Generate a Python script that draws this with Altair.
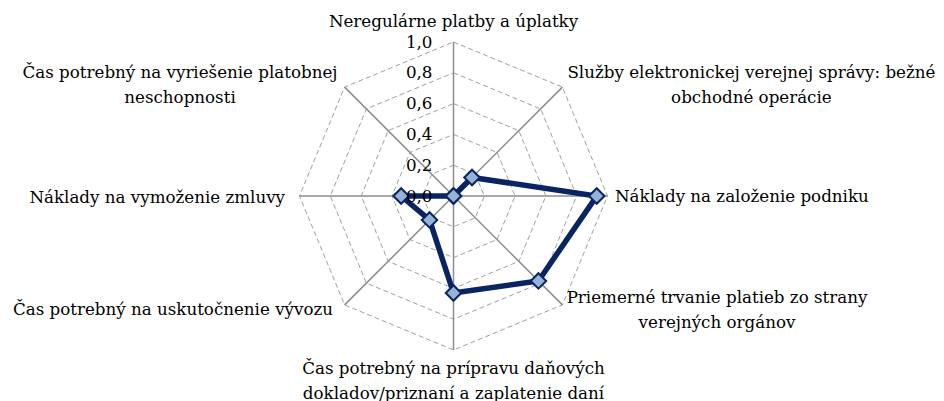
import numpy as np
import pandas as pd
import altair as alt

# ---- data ----
categories = [
    "Neregulárne platby a úplatky",
    "Služby elektronickej verejnej správy: bežné\nobchodné operácie",
    "Náklady na založenie podniku",
    "Priemerné trvanie platieb zo strany\nverejných orgánov",
    "Čas potrebný na prípravu daňových\ndokladov/priznaní a zaplatenie daní",
    "Čas potrebný na uskutočnenie vývozu",
    "Náklady na vymoženie zmluvy",
    "Čas potrebný na vyriešenie platobnej\nneschopnosti",
]
values = [0.0, 0.17, 0.93, 0.78, 0.63, 0.22, 0.34, 0.0]
grid_levels = [0.2, 0.4, 0.6, 0.8, 1.0]
tick_values = [0.0, 0.2, 0.4, 0.6, 0.8, 1.0]
tick_labels = ["0,0", "0,2", "0,4", "0,6", "0,8", "1,0"]

# ---- styles ----
FONT = "DejaVu Serif"
FS = 16.7
LH = 25
NAVY = "#0A2463"
FILL = "#95B3D7"
SPOKE = "#8C8C8C"
GRID = "#A0A0A0"

# label placement relative to the axis end (align, dx, dy in px of block centre)
label_style = [
    ("center", 0, -20),
    ("center", 189, -2),
    ("left", 7.5, 0.5),
    ("center", 154.6, 5.8),
    ("center", 0, 31.7),
    ("right", -11.6, 5.2),
    ("right", -14.5, 1.5),
    ("center", -164.6, -2),
]

n = len(categories)
ang = np.arange(n) * 2 * np.pi / n

# canvas geometry -> scale domains (radius 1.0 == 154 px, centre at 453.5,196)
W, H = 928, 393
R = 154.0
cx, cy = 453.5 - 8, 196 - 8
xdom = [-cx / R, (W - cx) / R]
ydom = [-(H - cy) / R, cy / R]
xs = alt.Scale(domain=xdom, nice=False, zero=False)
ys = alt.Scale(domain=ydom, nice=False, zero=False)

# data polygon
idx = list(range(n)) + [0]
poly = pd.DataFrame({
    "order": list(range(n + 1)),
    "v": [values[i] for i in idx],
    "a": [ang[i] for i in idx],
})
poly["x"] = poly["v"] * np.sin(poly["a"])
poly["y"] = poly["v"] * np.cos(poly["a"])

# grid octagons
grows = []
for lv in grid_levels:
    for k, i in enumerate(idx):
        grows.append({"level": lv, "order": k, "x": lv * np.sin(ang[i]), "y": lv * np.cos(ang[i])})
grid = pd.DataFrame(grows)

spokes = pd.DataFrame({"x": np.sin(ang), "y": np.cos(ang), "x0": 0.0, "y0": 0.0})
ticks = pd.DataFrame({"t": tick_values, "lab": tick_labels})

X = lambda f: alt.X(f, type="quantitative", scale=xs, axis=None)
Y = lambda f: alt.Y(f, type="quantitative", scale=ys, axis=None)

grid_layer = alt.Chart(grid).mark_line(
    color=GRID, strokeWidth=1, strokeDash=[5, 3]
).encode(x=X("x"), y=Y("y"), detail="level:N", order="order:Q")

spoke_layer = alt.Chart(spokes).mark_rule(color=SPOKE, strokeWidth=1.5).encode(
    x=X("x0"), y=Y("y0"), x2="x", y2="y"
)

line_layer = alt.Chart(poly).mark_line(color=NAVY, strokeWidth=5.5, strokeJoin="miter").encode(
    x=X("x"), y=Y("y"), order="order:Q"
)

pt_layer = alt.Chart(poly.iloc[:n]).mark_point(
    shape="diamond", filled=True, fill=FILL, stroke=NAVY, strokeWidth=2, size=240, opacity=1
).encode(x=X("x"), y=Y("y"))

tick_layer = alt.Chart(ticks).transform_calculate(zx="0").mark_text(
    font=FONT, fontSize=FS, align="right", baseline="middle", dx=-21, dy=0.5, color="black"
).encode(x=X("zx:Q"), y=Y("t"), text="lab:N")

label_layers = []
for i, cat in enumerate(categories):
    al, dx, dy = label_style[i]
    nlines = cat.count("\n") + 1
    dy_first = dy - (nlines - 1) * LH / 2
    df = pd.DataFrame({"lab": [cat], "x": [np.sin(ang[i])], "y": [np.cos(ang[i])]})
    label_layers.append(
        alt.Chart(df).mark_text(
            font=FONT, fontSize=FS, align=al, baseline="middle", dx=dx, dy=dy_first,
            lineBreak="\n", lineHeight=LH, color="black"
        ).encode(x=X("x"), y=Y("y"), text="lab:N")
    )

chart = alt.layer(grid_layer, spoke_layer, line_layer, pt_layer, tick_layer, *label_layers).properties(
    width=W, height=H, autosize=alt.AutoSizeParams(type="none"), padding=0, background="white"
).configure_view(strokeWidth=0)

chart.save("out.html", embed_options={"renderer": "svg", "actions": False})
